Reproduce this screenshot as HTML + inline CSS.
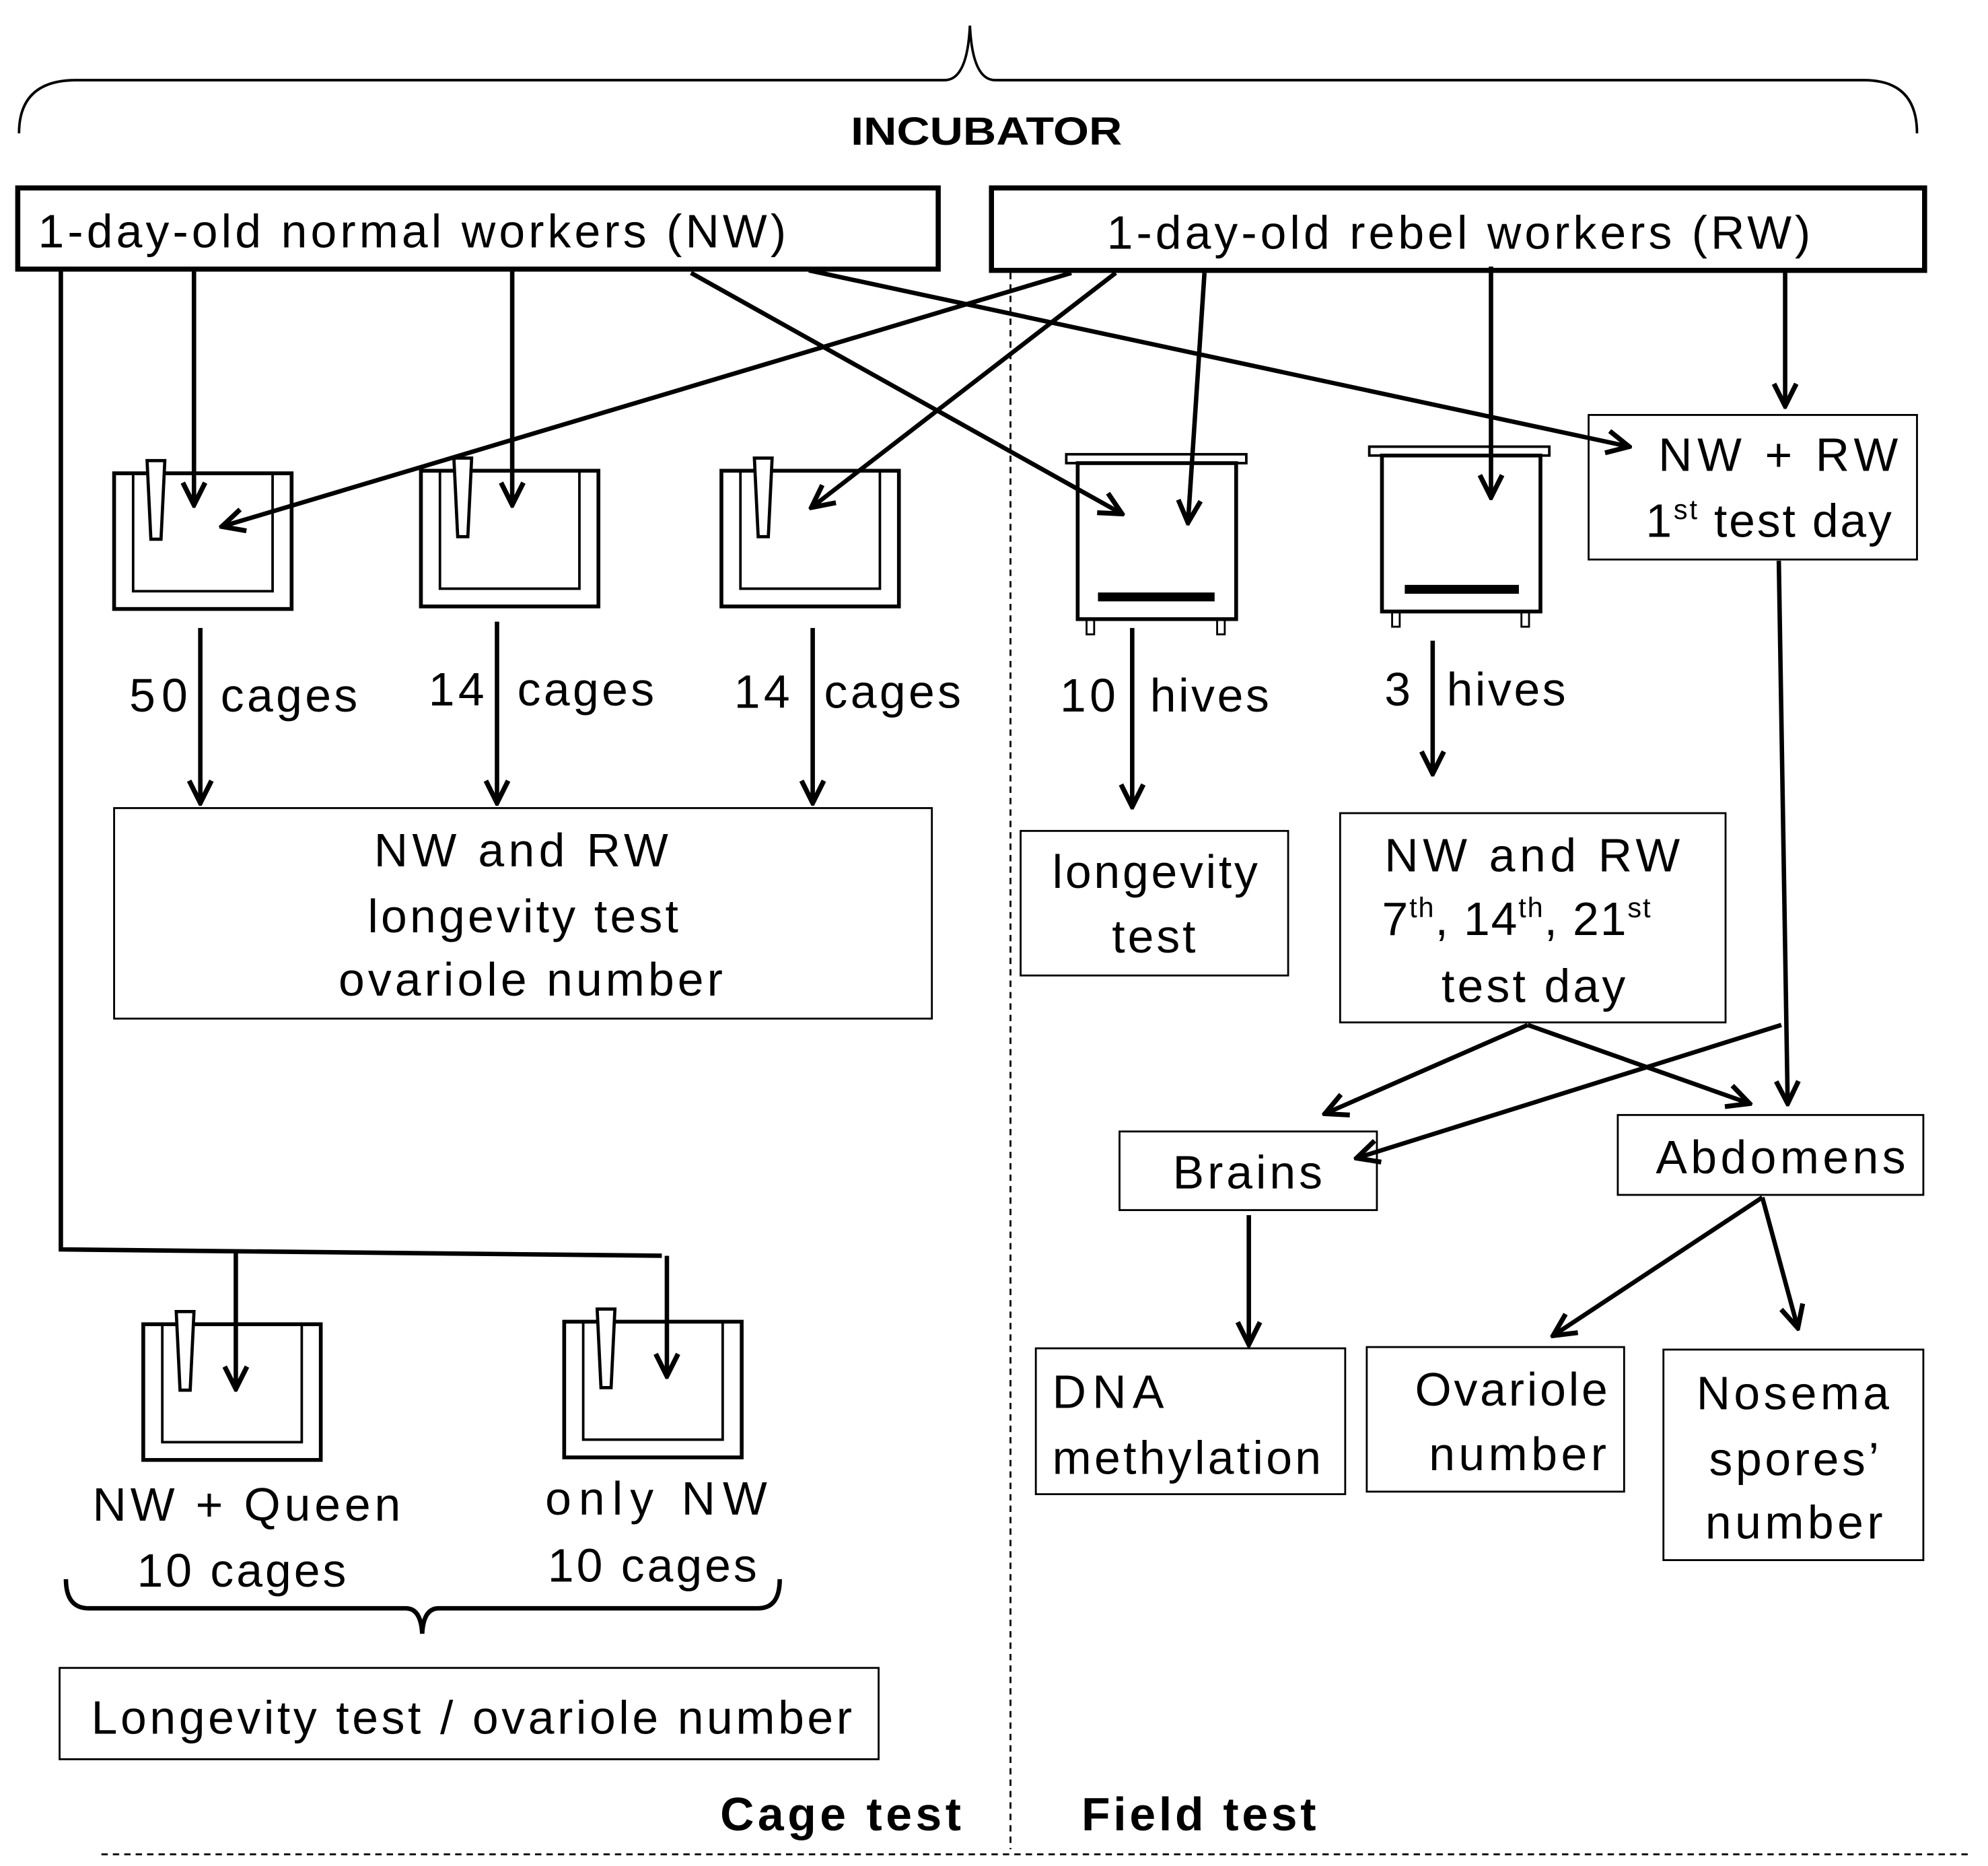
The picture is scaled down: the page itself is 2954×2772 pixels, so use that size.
<!DOCTYPE html>
<html><head><meta charset="utf-8"><style>
html,body{margin:0;padding:0;background:#fff;}
svg{display:block;}
text{font-family:"Liberation Sans",sans-serif;fill:#000;}
</style></head><body>
<svg width="2954" height="2772" viewBox="0 0 1568 1471" xmlns="http://www.w3.org/2000/svg">
<defs>
<marker id="m" viewBox="0 0 20 20" refX="18" refY="10" markerWidth="22" markerHeight="22" orient="auto" markerUnits="userSpaceOnUse">
<path d="M2,2 L18,10 L2,18" fill="none" stroke="#000" stroke-width="3.5"/>
</marker>
<g id="cage">
<rect x="0" y="0" width="140" height="107" fill="none" stroke="#000" stroke-width="3"/>
<path d="M15,0 V93 H125 V0" fill="none" stroke="#000" stroke-width="2"/>
<path d="M26,-10 H40 L37,52 H29 Z" fill="#fff" stroke="#000" stroke-width="2.5"/>
</g>
</defs>
<path d="M15,105 Q15,63 60,63 L745,63 Q763,63 765,20 Q767,63 785,63 L1470,63 Q1512,63 1512,105" fill="none" stroke="#000" stroke-width="2"/>
<text x="671" y="114" font-size="31" font-weight="bold" textLength="214" lengthAdjust="spacingAndGlyphs">INCUBATOR</text>
<rect x="14" y="148" width="726" height="64" fill="none" stroke="#000" stroke-width="4"/>
<text x="30" y="195" font-size="37" textLength="590">1-day-old normal workers (NW)</text>
<rect x="782" y="148" width="736" height="65" fill="none" stroke="#000" stroke-width="4"/>
<text x="873" y="196" font-size="37" textLength="555">1-day-old rebel workers (RW)</text>
<use href="#cage" x="90" y="373"/>
<use href="#cage" x="332" y="371"/>
<use href="#cage" x="569" y="371"/>
<use href="#cage" x="113" y="1044"/>
<use href="#cage" x="445" y="1042"/>
<rect x="841" y="358" width="142" height="7" fill="#fff" stroke="#000" stroke-width="2"/>
<rect x="850" y="365" width="125" height="123" fill="none" stroke="#000" stroke-width="3"/>
<rect x="866" y="467" width="92" height="7" fill="#000"/>
<rect x="857" y="488" width="6" height="12" fill="none" stroke="#000" stroke-width="1.5"/>
<rect x="960" y="488" width="6" height="12" fill="none" stroke="#000" stroke-width="1.5"/>
<rect x="1080" y="352" width="142" height="7" fill="#fff" stroke="#000" stroke-width="2"/>
<rect x="1090" y="359" width="125" height="123" fill="none" stroke="#000" stroke-width="3"/>
<rect x="1108" y="461" width="90" height="7" fill="#000"/>
<rect x="1098" y="482" width="6" height="12" fill="none" stroke="#000" stroke-width="1.5"/>
<rect x="1200" y="482" width="6" height="12" fill="none" stroke="#000" stroke-width="1.5"/>
<g stroke="#000" stroke-width="3.5" fill="none">
<line x1="153" y1="212" x2="153" y2="398" marker-end="url(#m)"/>
<line x1="404" y1="212" x2="404" y2="398" marker-end="url(#m)"/>
<polyline points="48,212 48,985 522,990"/>
<line x1="186" y1="985" x2="186" y2="1095" marker-end="url(#m)"/>
<line x1="526" y1="990" x2="526" y2="1085" marker-end="url(#m)"/>
<line x1="545" y1="215" x2="885" y2="405" marker-end="url(#m)"/>
<line x1="638" y1="213" x2="1285" y2="352" marker-end="url(#m)"/>
<line x1="845" y1="215" x2="175" y2="415" marker-end="url(#m)"/>
<line x1="880" y1="215" x2="640" y2="400" marker-end="url(#m)"/>
<line x1="950" y1="215" x2="937" y2="412" marker-end="url(#m)"/>
<line x1="1176" y1="210" x2="1176" y2="392" marker-end="url(#m)"/>
<line x1="1408" y1="213" x2="1408" y2="320" marker-end="url(#m)"/>
<line x1="158" y1="495" x2="158" y2="633" marker-end="url(#m)"/>
<line x1="392" y1="490" x2="392" y2="633" marker-end="url(#m)"/>
<line x1="641" y1="495" x2="641" y2="633" marker-end="url(#m)"/>
<line x1="893" y1="495" x2="893" y2="636" marker-end="url(#m)"/>
<line x1="1130" y1="505" x2="1130" y2="610" marker-end="url(#m)"/>
<line x1="1403" y1="442" x2="1410" y2="870" marker-end="url(#m)"/>
<line x1="1405" y1="808" x2="1070" y2="913" marker-end="url(#m)"/>
<line x1="1205" y1="808" x2="1045" y2="878" marker-end="url(#m)"/>
<line x1="1205" y1="808" x2="1380" y2="870" marker-end="url(#m)"/>
<line x1="985" y1="958" x2="985" y2="1060" marker-end="url(#m)"/>
<line x1="1390" y1="944" x2="1225" y2="1053" marker-end="url(#m)"/>
<line x1="1390" y1="944" x2="1418" y2="1047" marker-end="url(#m)"/>
</g>
<g font-size="37">
<text x="102" y="561" textLength="46">50</text><text x="174" y="561" textLength="108">cages</text>
<text x="338" y="556" textLength="44">14</text><text x="408" y="556" textLength="108">cages</text>
<text x="579" y="558" textLength="44">14</text><text x="650" y="558" textLength="108">cages</text>
<text x="836" y="561" textLength="44">10</text><text x="907" y="561" textLength="94">hives</text>
<text x="1092" y="556" textLength="22">3</text><text x="1141" y="556" textLength="94">hives</text>
</g>
<g fill="none" stroke="#000" stroke-width="1.5">
<rect x="90" y="637" width="645" height="166"/>
<rect x="805" y="655" width="211" height="114"/>
<rect x="1253" y="327" width="259" height="114"/>
<rect x="1057" y="641" width="304" height="165"/>
<rect x="883" y="892" width="203" height="62"/>
<rect x="1276" y="879" width="241" height="63"/>
<rect x="817" y="1063" width="244" height="115"/>
<rect x="1078" y="1062" width="203" height="114"/>
<rect x="1312" y="1064" width="205" height="166"/>
<rect x="47" y="1315" width="646" height="72"/>
</g>
<g font-size="37">
<text x="295" y="683" textLength="232">NW and RW</text>
<text x="290" y="735" textLength="245">longevity test</text>
<text x="267" y="785" textLength="303">ovariole number</text>
<text x="830" y="700" textLength="162">longevity</text>
<text x="877" y="751" textLength="66">test</text>
<text x="1308" y="371" textLength="189">NW + RW</text>
<text x="1298" y="423" letter-spacing="1.5">1<tspan font-size="22" dy="-14">st</tspan><tspan dy="14"> test day</tspan></text>
<text x="1092" y="687" textLength="233">NW and RW</text>
<text x="1090" y="737" letter-spacing="1">7<tspan font-size="22" dy="-14">th</tspan><tspan dy="14">, 14</tspan><tspan font-size="22" dy="-14">th</tspan><tspan dy="14">, 21</tspan><tspan font-size="22" dy="-14">st</tspan></text>
<text x="1137" y="790" textLength="145">test day</text>
<text x="925" y="937" textLength="118">Brains</text>
<text x="1306" y="925" textLength="197">Abdomens</text>
<text x="830" y="1110" textLength="88">DNA</text>
<text x="830" y="1162" textLength="212">methylation</text>
<text x="1116" y="1108" textLength="152">Ovariole</text>
<text x="1127" y="1159" textLength="140">number</text>
<text x="1338" y="1111" textLength="152">Nosema</text>
<text x="1348" y="1163" textLength="134">spores’</text>
<text x="1345" y="1213" textLength="140">number</text>
<text x="73" y="1199" textLength="243">NW + Queen</text>
<text x="108" y="1251" textLength="165">10 cages</text>
<text x="430" y="1194" textLength="175">only NW</text>
<text x="432" y="1247" textLength="165">10 cages</text>
<text x="72" y="1367" textLength="600">Longevity test / ovariole number</text>
</g>
<path d="M52,1245 Q52,1268 70,1268 L320,1268 Q332,1268 333,1288 Q334,1268 346,1268 L598,1268 Q615,1268 615,1245" fill="none" stroke="#000" stroke-width="3.5"/>
<line x1="797" y1="215" x2="797" y2="1458" stroke="#000" stroke-width="1.5" stroke-dasharray="5,4"/>
<line x1="80" y1="1462" x2="1555" y2="1462" stroke="#000" stroke-width="1.5" stroke-dasharray="5,4"/>
<text x="568" y="1443" font-size="37" font-weight="bold" textLength="190">Cage test</text>
<text x="853" y="1443" font-size="37" font-weight="bold" textLength="185">Field test</text>
</svg>
</body></html>
